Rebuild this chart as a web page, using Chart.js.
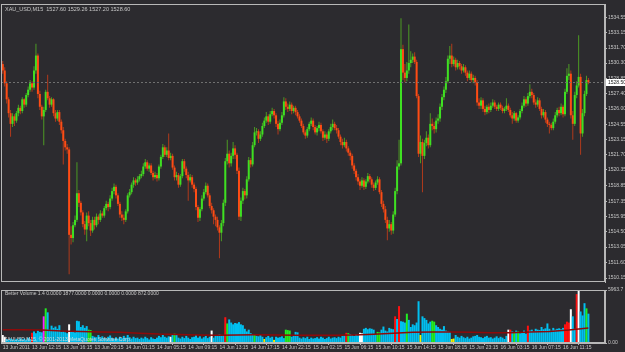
<!DOCTYPE html>
<html>
<head>
<meta charset="utf-8">
<script src="https://cdn.jsdelivr.net/npm/chart.js@4.4.1/dist/chart.umd.min.js"></script>
<style>
  html, body { margin: 0; padding: 0; background: #2c2b2f; }
  #wrap { position: relative; width: 625px; height: 352px; overflow: hidden; background: #2c2b2f; }
  #price { position: absolute; left: 0; top: 0; }
  #volume { position: absolute; left: 0; top: 286px; }
</style>
</head>
<body>
<div id="wrap">
  <canvas id="price" width="625" height="286"></canvas>
  <canvas id="volume" width="625" height="66"></canvas>
</div>
<script>
// XAU_USD M15 candles, 13 Jun 2011 -> 16 Jun 2011
const opens = [
  1530.2,1529.6,1528.4,1526.9,1525.6,1524.6,1525.3,1524.9,1525.6,1526.1,
  1525.8,1526.9,1526.4,1527.3,1527.8,1528.4,1528.0,1529.6,1531.0,1527.4,
  1526.2,1525.3,1525.9,1527.6,1527.0,1526.4,1526.9,1525.6,1525.1,1525.7,
  1524.8,1524.0,1523.0,1522.4,1522.2,1514.2,1513.9,1515.1,1515.6,1518.1,
  1517.2,1516.3,1515.2,1514.7,1516.0,1515.3,1514.6,1515.6,1515.1,1515.9,
  1515.6,1516.2,1516.0,1516.7,1517.1,1516.8,1517.6,1518.3,1518.7,1517.9,
  1517.1,1516.1,1515.8,1515.6,1516.4,1517.9,1518.2,1518.9,1519.3,1519.1,
  1519.4,1519.7,1519.9,1520.6,1521.0,1520.4,1520.7,1520.0,1519.6,1519.8,
  1519.5,1520.6,1521.5,1522.4,1521.7,1522.1,1521.4,1521.6,1520.5,1519.6,
  1519.8,1518.9,1519.7,1521.1,1520.4,1519.8,1519.3,1519.6,1518.9,1518.5,
  1516.8,1515.8,1516.6,1517.6,1518.2,1518.8,1517.9,1516.9,1516.5,1515.9,
  1515.6,1514.9,1514.4,1515.3,1517.2,1521.1,1521.8,1520.9,1521.6,1522.3,
  1521.7,1520.2,1515.9,1517.4,1518.3,1517.9,1519.4,1521.2,1520.8,1522.6,
  1523.8,1523.9,1523.2,1523.6,1524.4,1524.9,1525.3,1524.8,1525.5,1525.8,
  1525.4,1524.6,1524.1,1524.7,1525.4,1526.7,1526.2,1526.0,1526.4,1525.8,
  1526.1,1525.7,1525.3,1524.9,1524.4,1523.8,1523.5,1524.1,1524.6,1524.9,
  1524.3,1523.8,1524.2,1524.5,1523.9,1523.3,1523.6,1523.2,1523.9,1524.3,
  1524.6,1524.2,1524.0,1523.4,1522.9,1522.6,1522.9,1522.3,1521.9,1521.6,
  1520.7,1520.2,1519.6,1519.2,1518.8,1519.3,1518.7,1519.2,1519.7,1519.4,
  1518.9,1518.6,1519.1,1519.4,1518.2,1517.1,1516.6,1515.6,1514.8,1515.2,
  1514.6,1516.1,1518.3,1520.6,1520.9,1531.6,1529.4,1528.9,1529.6,1530.3,
  1530.6,1530.9,1530.4,1527.2,1521.8,1522.9,1521.6,1522.8,1523.3,1522.6,
  1524.6,1524.4,1524.1,1524.9,1525.1,1526.2,1527.1,1527.8,1528.6,1530.7,
  1531.0,1530.2,1530.6,1529.9,1530.3,1530.0,1529.6,1529.9,1529.4,1528.9,
  1529.3,1528.7,1528.9,1528.5,1526.6,1526.3,1526.8,1526.0,1525.7,1526.2,
  1525.9,1526.3,1526.6,1526.2,1526.0,1526.4,1526.1,1525.8,1526.0,1526.3,
  1525.9,1525.4,1525.1,1525.6,1524.9,1525.2,1525.8,1526.3,1526.9,1526.5,
  1527.2,1527.6,1527.3,1526.6,1526.4,1526.8,1526.0,1525.4,1525.7,1525.0,
  1524.6,1524.5,1524.2,1524.8,1525.4,1525.9,1525.6,1526.2,1525.5,1527.6,
  1529.1,1529.3,1525.4,1524.6,1527.3,1528.2,1529.0,1523.7,1525.6,1527.4,1528.7
];
const highs = [
  1530.5,1529.9,1528.6,1527.1,1525.9,1525.6,1525.5,1525.8,1526.4,1526.3,
  1527.1,1527.0,1527.5,1528.1,1528.7,1528.6,1530.0,1532.1,1531.2,1527.7,
  1526.4,1526.2,1527.8,1529.2,1527.2,1527.1,1527.0,1525.9,1525.9,1525.9,
  1525.0,1524.3,1523.2,1522.7,1522.4,1515.0,1515.4,1516.0,1521.0,1518.4,
  1517.4,1516.5,1515.5,1516.3,1516.4,1515.6,1515.9,1515.9,1516.2,1516.1,
  1516.5,1516.4,1516.9,1517.4,1517.3,1517.9,1518.6,1519.0,1518.9,1518.1,
  1517.3,1516.4,1516.1,1516.6,1518.1,1518.5,1519.1,1519.6,1519.5,1519.7,
  1519.9,1520.2,1520.9,1521.3,1521.2,1520.9,1520.9,1520.2,1520.1,1520.0,
  1520.8,1521.7,1522.7,1522.6,1522.4,1523.7,1521.9,1521.8,1520.7,1520.1,
  1520.0,1519.9,1521.3,1521.3,1520.6,1520.1,1519.9,1519.8,1519.1,1518.7,
  1517.0,1516.8,1517.9,1518.5,1519.1,1519.0,1518.1,1517.2,1516.7,1516.1,
  1515.9,1515.1,1515.6,1517.5,1521.4,1523.1,1522.1,1521.9,1522.9,1522.6,
  1521.9,1520.5,1517.7,1518.6,1518.5,1519.7,1521.5,1521.4,1522.9,1524.3,
  1524.2,1524.1,1523.9,1524.7,1525.2,1525.7,1525.5,1525.8,1526.1,1526.0,
  1525.6,1524.9,1525.0,1525.7,1527.1,1527.0,1526.5,1526.7,1526.6,1526.3,
  1526.3,1525.9,1525.5,1525.1,1524.6,1524.0,1524.3,1524.8,1525.2,1525.1,
  1524.5,1524.4,1524.8,1524.7,1524.1,1523.9,1523.8,1524.1,1524.6,1525.0,
  1524.8,1524.5,1524.2,1523.6,1523.2,1523.3,1523.1,1522.5,1522.1,1521.8,
  1520.9,1520.4,1519.9,1519.4,1519.6,1519.5,1519.4,1520.0,1519.9,1519.6,
  1519.1,1519.3,1519.7,1519.6,1518.4,1517.4,1516.9,1515.9,1515.6,1515.4,
  1516.4,1518.6,1521.2,1523.1,1534.5,1532.0,1530.2,1530.4,1533.9,1531.4,
  1531.2,1531.3,1530.6,1527.4,1523.5,1523.2,1523.1,1523.9,1523.6,1525.6,
  1525.1,1524.8,1525.2,1525.5,1526.5,1527.4,1528.1,1529.0,1531.0,1531.9,
  1532.1,1530.9,1530.8,1530.6,1530.5,1530.2,1530.2,1530.1,1529.6,1529.6,
  1529.5,1529.2,1529.1,1528.7,1527.0,1527.1,1527.0,1526.3,1526.4,1526.5,
  1526.6,1526.9,1526.8,1526.4,1526.6,1526.6,1526.3,1526.2,1527.0,1526.5,
  1526.1,1525.7,1525.8,1525.7,1525.4,1526.0,1526.6,1527.2,1527.1,1527.5,
  1528.3,1527.9,1527.5,1526.9,1527.1,1527.0,1526.2,1526.0,1525.9,1525.2,
  1524.8,1524.7,1525.1,1525.7,1526.1,1526.2,1526.5,1526.4,1527.9,1529.8,
  1530.2,1529.6,1525.8,1527.6,1528.6,1532.9,1529.3,1526.0,1527.7,1529.1,1528.9
];
const lows = [
  1529.3,1528.1,1526.5,1525.2,1523.4,1524.3,1524.4,1524.7,1525.3,1525.5,
  1525.6,1526.1,1526.2,1527.1,1527.6,1527.6,1527.8,1529.3,1527.0,1525.9,
  1525.0,1522.6,1525.7,1526.8,1526.1,1526.2,1525.3,1524.8,1524.9,1524.5,
  1523.7,1520.8,1522.1,1521.8,1510.5,1513.3,1513.5,1514.9,1515.4,1516.8,
  1516.0,1514.9,1514.2,1513.6,1515.0,1514.1,1514.4,1514.7,1514.9,1515.2,
  1515.4,1515.8,1515.8,1516.5,1516.4,1516.6,1517.4,1518.0,1517.6,1516.9,
  1515.8,1515.5,1515.2,1515.4,1516.2,1517.7,1518.0,1518.6,1518.8,1518.9,
  1519.2,1519.5,1519.7,1520.4,1520.2,1520.1,1519.8,1519.3,1519.4,1519.2,
  1519.3,1520.4,1521.3,1521.5,1521.5,1521.2,1521.2,1520.3,1519.3,1519.3,
  1518.6,1518.7,1519.5,1520.1,1519.5,1517.4,1519.1,1518.6,1518.2,1516.5,
  1515.4,1515.5,1516.4,1517.4,1518.0,1517.7,1516.7,1516.2,1515.2,1515.0,
  1514.6,1512.0,1513.6,1515.0,1516.9,1520.8,1520.5,1520.6,1521.3,1521.3,
  1519.9,1515.6,1515.5,1517.1,1517.5,1517.6,1519.2,1520.5,1520.6,1522.4,
  1523.5,1522.8,1523.0,1523.4,1524.2,1524.7,1524.5,1524.6,1525.3,1525.1,
  1524.3,1523.6,1523.9,1524.5,1525.2,1525.9,1525.7,1525.8,1525.5,1525.6,
  1525.4,1525.1,1524.7,1524.2,1523.6,1523.2,1523.3,1523.9,1524.4,1524.0,
  1523.6,1523.5,1523.9,1523.7,1523.0,1523.1,1522.8,1523.0,1523.7,1524.0,
  1524.0,1523.7,1523.2,1522.6,1522.3,1522.4,1522.0,1521.6,1521.2,1520.4,
  1519.9,1519.3,1518.9,1518.4,1518.6,1518.4,1518.5,1519.0,1519.1,1518.6,
  1518.3,1518.4,1518.9,1518.0,1516.8,1516.3,1515.3,1513.7,1514.5,1514.2,
  1514.3,1515.9,1518.0,1520.3,1520.7,1528.7,1528.5,1528.6,1529.3,1529.9,
  1530.3,1530.2,1527.0,1521.5,1520.9,1518.2,1521.3,1522.5,1522.3,1522.4,
  1524.0,1523.7,1523.8,1524.6,1524.8,1525.9,1526.8,1527.5,1528.4,1530.2,
  1529.9,1530.0,1529.6,1529.7,1529.7,1529.3,1529.4,1529.1,1528.6,1528.7,
  1528.5,1528.4,1528.2,1526.3,1526.0,1526.0,1525.7,1525.4,1525.5,1525.6,
  1525.7,1526.1,1526.0,1525.8,1525.8,1525.9,1525.6,1525.6,1525.8,1525.7,
  1525.2,1524.6,1524.9,1524.7,1524.7,1525.0,1525.6,1526.1,1526.2,1526.3,
  1527.0,1527.0,1526.4,1526.1,1526.2,1525.8,1525.1,1525.2,1524.7,1524.3,
  1523.7,1524.0,1524.0,1524.6,1525.2,1525.3,1525.4,1525.2,1525.3,1527.4,
  1528.7,1525.1,1523.1,1524.4,1527.0,1528.0,1521.7,1523.4,1525.3,1527.2,1528.3
];
const closes = [
  1529.6,1528.4,1526.9,1525.6,1524.6,1525.3,1524.9,1525.6,1526.1,1525.8,
  1526.9,1526.4,1527.3,1527.8,1528.4,1528.0,1529.6,1531.0,1527.4,1526.2,
  1525.3,1525.9,1527.6,1527.0,1526.4,1526.9,1525.6,1525.1,1525.7,1524.8,
  1524.0,1523.0,1522.4,1522.2,1514.2,1513.9,1515.1,1515.6,1518.1,1517.2,
  1516.3,1515.2,1514.7,1516.0,1515.3,1514.6,1515.6,1515.1,1515.9,1515.6,
  1516.2,1516.0,1516.7,1517.1,1516.8,1517.6,1518.3,1518.7,1517.9,1517.1,
  1516.1,1515.8,1515.6,1516.4,1517.9,1518.2,1518.9,1519.3,1519.1,1519.4,
  1519.7,1519.9,1520.6,1521.0,1520.4,1520.7,1520.0,1519.6,1519.8,1519.5,
  1520.6,1521.5,1522.4,1521.7,1522.1,1521.4,1521.6,1520.5,1519.6,1519.8,
  1518.9,1519.7,1521.1,1520.4,1519.8,1519.3,1519.6,1518.9,1518.5,1516.8,
  1515.8,1516.6,1517.6,1518.2,1518.8,1517.9,1516.9,1516.5,1515.9,1515.6,
  1514.9,1514.4,1515.3,1517.2,1521.1,1521.8,1520.9,1521.6,1522.3,1521.7,
  1520.2,1515.9,1517.4,1518.3,1517.9,1519.4,1521.2,1520.8,1522.6,1523.8,
  1523.9,1523.2,1523.6,1524.4,1524.9,1525.3,1524.8,1525.5,1525.8,1525.4,
  1524.6,1524.1,1524.7,1525.4,1526.7,1526.2,1526.0,1526.4,1525.8,1526.1,
  1525.7,1525.3,1524.9,1524.4,1523.8,1523.5,1524.1,1524.6,1524.9,1524.3,
  1523.8,1524.2,1524.5,1523.9,1523.3,1523.6,1523.2,1523.9,1524.3,1524.6,
  1524.2,1524.0,1523.4,1522.9,1522.6,1522.9,1522.3,1521.9,1521.6,1520.7,
  1520.2,1519.6,1519.2,1518.8,1519.3,1518.7,1519.2,1519.7,1519.4,1518.9,
  1518.6,1519.1,1519.4,1518.2,1517.1,1516.6,1515.6,1514.8,1515.2,1514.6,
  1516.1,1518.3,1520.6,1520.9,1531.6,1529.4,1528.9,1529.6,1530.3,1530.6,
  1530.9,1530.4,1527.2,1521.8,1522.9,1521.6,1522.8,1523.3,1522.6,1524.6,
  1524.4,1524.1,1524.9,1525.1,1526.2,1527.1,1527.8,1528.6,1530.7,1531.0,
  1530.2,1530.6,1529.9,1530.3,1530.0,1529.6,1529.9,1529.4,1528.9,1529.3,
  1528.7,1528.9,1528.5,1526.6,1526.3,1526.8,1526.0,1525.7,1526.2,1525.9,
  1526.3,1526.6,1526.2,1526.0,1526.4,1526.1,1525.8,1526.0,1526.3,1525.9,
  1525.4,1525.1,1525.6,1524.9,1525.2,1525.8,1526.3,1526.9,1526.5,1527.2,
  1527.6,1527.3,1526.6,1526.4,1526.8,1526.0,1525.4,1525.7,1525.0,1524.6,
  1524.5,1524.2,1524.8,1525.4,1525.9,1525.6,1526.2,1525.5,1527.6,1529.1,
  1529.3,1525.4,1524.6,1527.3,1528.2,1529.0,1523.7,1525.6,1527.4,1528.7,1528.5
];

// Better Volume 1.4 histogram
const volumes = [
  900,700,450,380,520,430,350,480,400,550,
  420,500,380,600,450,1150,1300,1100,1400,1250,
  1200,3000,3900,3450,1500,1950,1700,1850,1600,2000,
  1250,1300,1200,1100,2100,1250,1300,1200,2500,2450,
  1800,2000,1700,1900,1500,1450,800,700,650,900,
  600,750,550,500,700,850,600,450,650,500,
  700,550,800,600,900,650,500,700,550,600,
  450,600,500,700,550,400,650,500,450,600,
  800,650,900,700,600,750,700,1000,1050,950,
  600,500,700,550,800,600,450,650,700,900,
  600,750,500,650,800,550,700,1400,600,900,
  850,950,800,900,2900,2200,2650,2300,2100,2250,
  2200,2350,2100,2000,1600,1300,1500,1100,1000,1000,
  800,750,900,700,450,650,800,600,700,350,
  700,600,650,750,550,1500,1450,1400,700,800,
  1250,1200,600,500,650,550,700,450,600,500,
  550,650,500,700,600,450,550,700,500,600,
  650,550,700,600,800,850,1150,1100,1000,900,
  800,950,850,1150,1100,1600,1700,1550,1650,1600,
  1500,1000,1250,1200,1500,1850,1400,1300,1700,1600,
  1550,3000,2700,4150,2450,2400,2300,3300,2600,1800,
  2100,2000,2300,4700,900,3000,2800,2600,2200,2400,
  2500,2400,2000,1800,1600,1500,1900,1400,1300,1250,
  450,500,900,700,600,800,650,550,700,500,
  600,750,800,900,700,650,550,700,800,600,
  650,500,600,750,550,700,600,450,800,1500,
  1500,1300,1200,1400,1300,1100,1200,1400,1050,1950,
  1400,1500,1300,1600,1500,1450,1800,1550,1650,2200,
  1600,1400,1700,1500,1600,1650,1550,1700,2100,2400,
  2300,3800,3000,1600,5500,5960,3550,3100,4480,3900,3300
];
// bar kind: 0 normal, 1 climax high, 2 climax low, 3 churn, 4 low volume, 5 climax churn
const volKinds = [
  2,2,0,0,0,0,0,0,0,0,  0,0,0,0,0,1,0,0,0,0,  0,5,3,0,0,0,0,0,0,0,
  0,0,0,0,2,0,0,0,0,0,  0,0,0,0,3,3,0,0,0,0,  0,0,0,0,0,0,0,0,0,0,
  0,0,0,0,0,0,0,0,0,0,  0,0,0,0,0,0,0,0,0,0,  0,0,0,0,0,0,2,0,3,0,
  0,0,0,0,0,0,0,0,0,0,  0,0,0,0,0,0,0,2,0,0,  0,0,0,0,1,3,0,0,0,0,
  0,0,0,0,0,0,0,0,0,3,  0,0,0,0,4,0,0,0,0,4,  0,0,0,0,0,3,3,3,0,0,
  0,0,0,0,0,0,0,0,0,0,  0,0,0,0,0,0,0,0,0,0,  0,0,0,0,0,0,1,3,0,0,
  0,0,0,2,2,0,0,0,0,0,  0,0,3,3,0,0,0,0,0,0,  0,1,0,1,0,0,0,3,0,0,
  0,0,0,0,4,0,0,0,0,0,  3,3,0,0,0,0,0,0,0,0,  4,4,0,0,0,0,0,0,0,0,
  0,0,0,0,0,0,0,0,0,0,  0,0,0,0,0,0,0,0,0,2,  1,0,3,0,3,0,0,0,0,1,
  0,0,0,0,0,0,0,0,0,0,  0,0,0,0,0,0,0,0,1,1,  1,2,0,0,1,2,0,0,0,3,0
];
// average line of the indicator, read every 10 bars
const volAvg = [1500,1500,1450,1350,1300,1250,1200,1100,1000,950,900,880,900,920,900,880,
  870,860,900,980,1100,1200,1250,1250,1200,1150,1150,1250,1300,1450,1700];

const priceTicks = [1534.55,1533.15,1531.70,1530.30,1528.85,1527.40,1526.00,1524.55,1523.15,
  1521.70,1520.35,1518.85,1517.35,1515.95,1514.50,1513.05,1511.60,1510.15];
const bidPrice = 1528.50;
const timeTickBars = [0,15,31,47,63,79,95,111,127,143,159,175,191,207,223,239,255,271,287];
const timeLabels = ['13 Jun 2011','13 Jun 12:15','13 Jun 16:15','13 Jun 20:15','14 Jun 01:15',
  '14 Jun 05:15','14 Jun 09:15','14 Jun 13:15','14 Jun 17:15','14 Jun 22:15','15 Jun 02:15',
  '15 Jun 06:15','15 Jun 10:15','15 Jun 14:15','15 Jun 18:15','15 Jun 23:15','16 Jun 03:15',
  '16 Jun 07:15','16 Jun 11:15'];
const volTicks = [0, 5963.7];
const volTickLabels = ['0.00', '5963.7'];

const headerText = 'XAU_USD,M15  1527.60 1529.26 1527.20 1528.60';
const volHeaderText = 'Better Volume 1.4 0.0000 1877.0000 0.0000 0.0000 0.0000 872.0000';
const footText = 'XAUUSD,M15, \u00a9 2001-2013 MetaQuotes Software Corp.';

// ---- styles ----
const BG = '#2c2b2f';
const FRAME = '#b8b8b8';
const TEXT = '#c8c8c8';
const FONT = '"Liberation Sans", Arial, sans-serif';
const BULL = '#3ee022', BEAR = '#ff4c14';
const BULL_WICK = '#4c9a24', BEAR_WICK = '#b03a1c';
const KIND_COLORS = ['#00c0f0', '#ff1010', '#ffffff', '#22ee22', '#f0f000', '#ff20ff'];
const X_MIN = -0.9, X_MAX = 308.5;

Chart.defaults.font.family = FONT;
Chart.defaults.color = TEXT;
Chart.defaults.animation = false;

const bg = {
  id: 'bg',
  beforeDraw(chart) {
    const { ctx, width, height } = chart;
    ctx.save();
    ctx.fillStyle = BG;
    ctx.fillRect(0, 0, width, height);
    ctx.restore();
  }
};

// box around the plot, like the terminal does
const frame = {
  id: 'frame',
  afterDraw(chart) {
    const { ctx, chartArea: a } = chart;
    ctx.save();
    ctx.strokeStyle = FRAME;
    ctx.lineWidth = 1;
    ctx.strokeRect(Math.round(a.left) + 0.5, Math.round(a.top) + 0.5,
      Math.round(a.right - a.left) - 1, Math.round(a.bottom - a.top) - 1);
    ctx.restore();
  }
};

// small texts written inside the plot
const caption = {
  id: 'caption',
  afterDatasetsDraw(chart, args, opts) {
    const { ctx, chartArea: a } = chart;
    ctx.save();
    ctx.font = opts.size + 'px ' + FONT;
    ctx.textBaseline = 'middle';
    (opts.items || []).forEach(it => {
      ctx.fillStyle = it.color || TEXT;
      ctx.fillText(it.text, a.left + it.dx, it.fromBottom ? a.bottom - it.dy : a.top + it.dy);
    });
    ctx.restore();
  }
};

// dotted bid line and its price box
const bidLine = {
  id: 'bidLine',
  afterDatasetsDraw(chart) {
    const { ctx, chartArea: a, scales: { y } } = chart;
    const py = Math.round(y.getPixelForValue(bidPrice)) + 0.5;
    ctx.save();
    ctx.strokeStyle = '#707070';
    ctx.lineWidth = 1;
    ctx.setLineDash([2, 2]);
    ctx.beginPath();
    ctx.moveTo(a.left, py);
    ctx.lineTo(a.right, py);
    ctx.stroke();
    ctx.restore();
  },
  afterDraw(chart) {
    const { ctx, chartArea: a, scales: { y } } = chart;
    const py = Math.round(y.getPixelForValue(bidPrice));
    ctx.save();
    ctx.fillStyle = '#ffffff';
    ctx.fillRect(a.right + 1, py - 3, 20, 7);
    ctx.fillStyle = '#202020';
    ctx.font = '5px ' + FONT;
    ctx.textBaseline = 'middle';
    ctx.fillText(bidPrice.toFixed(2), a.right + 3, py + 0.5);
    ctx.restore();
  }
};

const idx = closes.map((c, i) => i);
const isUp = i => closes[i] >= opens[i];

new Chart(document.getElementById('price'), {
  type: 'bar',
  data: {
    datasets: [
      {
        label: 'wick',
        order: 2,
        data: idx.map(i => ({ x: i, y: [lows[i], highs[i]] })),
        backgroundColor: c => isUp(c.dataIndex) ? BULL_WICK : BEAR_WICK,
        barThickness: 1,
        inflateAmount: 0,
        grouped: false
      },
      {
        label: 'body',
        order: 1,
        data: idx.map(i => ({ x: i, y: [opens[i], closes[i]] })),
        backgroundColor: c => isUp(c.dataIndex) ? BULL : BEAR,
        barThickness: 2,
        inflateAmount: 0,
        grouped: false
      }
    ]
  },
  options: {
    responsive: false,
    layout: { padding: { left: 1, top: 1, right: 0, bottom: 1 } },
    plugins: {
      legend: { display: false },
      tooltip: { enabled: false },
      caption: { size: 5.5, items: [{ text: headerText, dx: 4, dy: 5 }] }
    },
    scales: {
      x: { type: 'linear', display: false, min: X_MIN, max: X_MAX, offset: false },
      y: {
        position: 'right',
        min: 1509.78,
        max: 1535.83,
        afterBuildTicks: s => { s.ticks = priceTicks.map(v => ({ value: v })); },
        afterFit: s => { s.width = 20; },
        ticks: {
          callback: v => v.toFixed(2),
          font: { size: 5 },
          color: TEXT,
          padding: 1,
          autoSkip: false
        },
        grid: { drawOnChartArea: false, drawTicks: true, tickLength: 2, color: FRAME },
        border: { display: true, color: FRAME }
      }
    }
  },
  plugins: [bg, bidLine, caption, frame]
});

new Chart(document.getElementById('volume'), {
  type: 'bar',
  data: {
    datasets: [
      {
        type: 'line',
        label: 'average',
        order: 0,
        data: volAvg.map((v, k) => ({ x: k * 10, y: v })),
        borderColor: '#8e0a0a',
        borderWidth: 1.5,
        pointRadius: 0,
        tension: 0
      },
      {
        label: 'volume',
        order: 1,
        data: idx.map(i => ({ x: i, y: volumes[i] })),
        backgroundColor: c => KIND_COLORS[volKinds[c.dataIndex]],
        barThickness: 2,
        inflateAmount: 0,
        grouped: false
      }
    ]
  },
  options: {
    responsive: false,
    layout: { padding: { left: 1, top: 1, right: 0, bottom: 0 } },
    plugins: {
      legend: { display: false },
      tooltip: { enabled: false },
      caption: {
        size: 5,
        items: [
          { text: volHeaderText, dx: 4, dy: 3.5 },
          { text: footText, dx: 3, dy: 3, fromBottom: true, color: '#d8d8d8' }
        ]
      }
    },
    scales: {
      x: {
        type: 'linear',
        min: X_MIN,
        max: X_MAX,
        offset: false,
        afterBuildTicks: s => { s.ticks = timeTickBars.map(v => ({ value: v })); },
        afterFit: s => { s.height = 9; },
        ticks: {
          callback: (v, k) => timeLabels[k],
          align: 'start',
          font: { size: 5 },
          color: TEXT,
          padding: 0,
          maxRotation: 0,
          autoSkip: false
        },
        grid: { drawOnChartArea: false, drawTicks: true, tickLength: 2, color: FRAME },
        border: { display: true, color: FRAME }
      },
      y: {
        position: 'right',
        min: 0,
        max: 5963.7,
        afterBuildTicks: s => { s.ticks = volTicks.map(v => ({ value: v })); },
        afterFit: s => { s.width = 20; },
        ticks: {
          callback: (v, k) => volTickLabels[k],
          font: { size: 5 },
          color: TEXT,
          padding: 1,
          autoSkip: false
        },
        grid: { drawOnChartArea: false, drawTicks: true, tickLength: 2, color: FRAME },
        border: { display: true, color: FRAME }
      }
    }
  },
  plugins: [bg, caption, frame]
});
</script>
</body>
</html>
